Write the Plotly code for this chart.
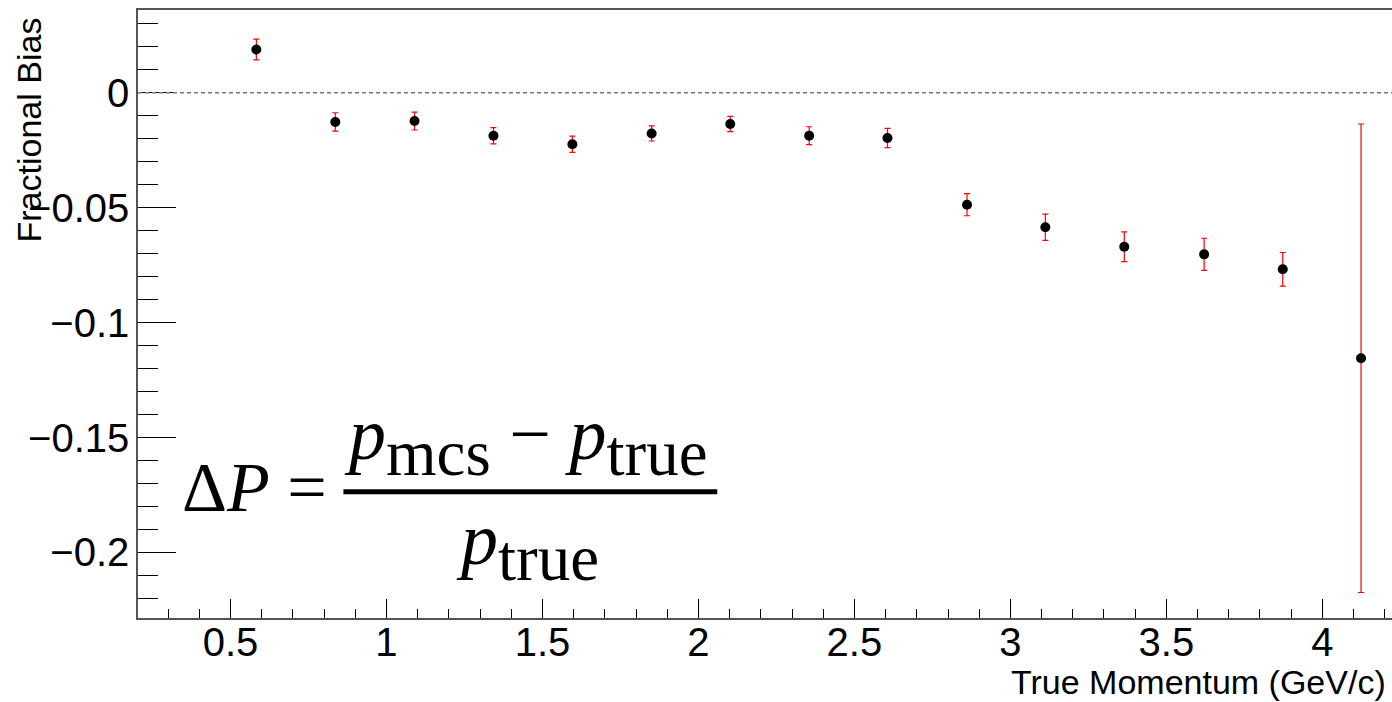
import plotly.graph_objects as go

# ---- data ----
momentum = [0.583, 0.836, 1.090, 1.343, 1.596, 1.850, 2.102, 2.355, 2.606,
            2.861, 3.112, 3.365, 3.621, 3.873, 4.124]
frac_bias = [0.0188, -0.0127, -0.0123, -0.0187, -0.0224, -0.0177, -0.0136,
             -0.0187, -0.0197, -0.0487, -0.0585, -0.0670, -0.0703, -0.0768,
             -0.1155]
bias_err = [0.0045, 0.0040, 0.0039, 0.0035, 0.0035, 0.0033, 0.0033, 0.0039,
            0.0042, 0.0048, 0.0057, 0.0065, 0.0070, 0.0073, 0.1019]

x_ticks = [0.5, 1, 1.5, 2, 2.5, 3, 3.5, 4]
x_ticklabels = ["0.5", "1", "1.5", "2", "2.5", "3", "3.5", "4"]
y_ticks = [0, -0.05, -0.1, -0.15, -0.2]
y_ticklabels = ["0", "\u22120.05", "\u22120.1", "\u22120.15", "\u22120.2"]

W, H = 1392, 702
L, R, T, B = 137.5, 1392, 10, 618.3


def px(xp):
    return (xp - L) / (R - L)


def py(yp):
    return (B - yp) / (B - T)


fig = go.Figure()
fig.add_trace(go.Scatter(
    x=momentum, y=frac_bias,
    mode="markers",
    marker=dict(color="black", size=10, symbol="circle"),
    error_y=dict(type="data", array=bias_err, visible=True,
                 color="#ff0000", thickness=1.2, width=3),
    showlegend=False,
))

fig.add_hline(y=0, line=dict(color="#777777", width=1.5, dash="4px,3px"))

sans = "Liberation Sans, Arial, Helvetica, sans-serif"
serif = "Liberation Serif, Times New Roman, serif"

fig.update_layout(
    width=W, height=H,
    margin=dict(l=L, r=W - R, t=T, b=H - B, pad=0),
    plot_bgcolor="white", paper_bgcolor="white",
    font=dict(family=sans, color="black"),
    xaxis=dict(
        range=[0.2036, 4.2232],
        tickvals=x_ticks, ticktext=x_ticklabels,
        ticks="inside", ticklen=19, tickwidth=1, tickcolor="black",
        minor=dict(dtick=0.1, tick0=0, ticks="inside", ticklen=9,
                   tickwidth=1, tickcolor="black"),
        showline=True, linecolor="#555555", linewidth=1.5, mirror=True,
        showgrid=False, zeroline=False,
        tickfont=dict(family=sans, size=40, color="black"),
        ticklabelstandoff=-12,
    ),
    yaxis=dict(
        range=[-0.2285, 0.036],
        tickvals=y_ticks, ticktext=y_ticklabels,
        ticks="inside", ticklen=38, tickwidth=1, tickcolor="black",
        minor=dict(dtick=0.01, tick0=0, ticks="inside", ticklen=20,
                   tickwidth=1, tickcolor="black"),
        showline=True, linecolor="#555555", linewidth=1.5, mirror=False,
        showgrid=False, zeroline=False,
        tickfont=dict(family=sans, size=40, color="black"),
        ticklabelstandoff=-1,
    ),
)

annotations = [
    # axis titles
    dict(text="Fractional Bias", x=px(28), y=py(130), xref="paper", yref="paper",
         textangle=-90, showarrow=False, xanchor="center", yanchor="middle",
         font=dict(family=sans, size=34, color="black")),
    dict(text="True Momentum (GeV/c)", x=px(1388), y=py(661), xref="paper", yref="paper",
         showarrow=False, xanchor="right", yanchor="top",
         font=dict(family=sans, size=34, color="black")),
    # formula
    dict(text="\u0394<i>P</i> =", x=px(180), y=py(488), xref="paper", yref="paper",
         showarrow=False, xanchor="left", yanchor="middle",
         font=dict(family=serif, size=70, color="black")),
    dict(text="<i>p</i><sub><span style='font-size:65px'>mcs</span></sub> \u2212 "
              "<i>p</i><sub><span style='font-size:65px'>true</span></sub>",
         x=px(526), y=py(441), xref="paper", yref="paper",
         showarrow=False, xanchor="center", yanchor="middle",
         font=dict(family=serif, size=74, color="black")),
    dict(text="<i>p</i><sub><span style='font-size:65px'>true</span></sub>",
         x=px(527), y=py(546), xref="paper", yref="paper",
         showarrow=False, xanchor="center", yanchor="middle",
         font=dict(family=serif, size=74, color="black")),
]
fig.update_layout(annotations=annotations)

fig.add_shape(type="line", xref="paper", yref="paper",
              x0=px(343), x1=px(717), y0=py(492), y1=py(492),
              line=dict(color="black", width=5))

fig.write_html("out.html", config={"displayModeBar": False},
               post_script="document.body.style.margin='0';")
